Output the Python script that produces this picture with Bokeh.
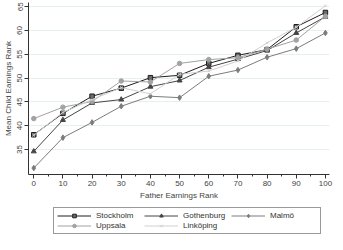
from bokeh.plotting import figure
from bokeh.layouts import column
from bokeh.models import Range1d, SingleIntervalTicker, FixedTicker, Legend, LegendItem
from bokeh.embed import file_html
from bokeh.resources import INLINE

father_rank = [0, 10, 20, 30, 40, 50, 60, 70, 80, 90, 100]
y_ticks = [35, 40, 45, 50, 55, 60, 65]
stockholm = [38.1, 42.6, 46.2, 47.9, 50.1, 50.6, 53.1, 54.8, 56.0, 60.8, 63.8]
gothenburg = [34.6, 41.2, 44.8, 45.5, 48.2, 49.5, 52.3, 54.0, 55.8, 59.5, 62.9]
malmo = [31.1, 37.5, 40.7, 44.1, 46.2, 45.9, 50.4, 51.7, 54.4, 56.2, 59.5]
uppsala = [41.5, 43.9, 45.1, 49.4, 49.2, 53.1, 53.9, 54.3, 56.1, 58.0, 63.0]
linkoping = [38.0, 42.8, 45.5, 48.0, 46.7, 50.8, 51.5, 53.6, 57.4, 60.7, 65.2]

series = [
    ("Stockholm", stockholm, "#1e1e1e", "square", "#6a6a6a", 4.5),
    ("Gothenburg", gothenburg, "#454545", "triangle", "#454545", 5),
    ("Malmö", malmo, "#7c7c7c", "diamond", "#7c7c7c", 5.5),
    ("Uppsala", uppsala, "#a2a2a2", "circle", "#a2a2a2", 4.5),
    ("Linköping", linkoping, "#d0d0d0", "x", "#d0d0d0", 3.5),
]

FONT = "Liberation Sans"

p = figure(frame_width=301, frame_height=172, output_backend="svg", toolbar_location=None,
           x_range=Range1d(-1.8, 101.4), y_range=Range1d(29.75, 65.9),
           min_border_left=26, min_border_right=8, min_border_top=2,
           min_border_bottom=0)
p.outline_line_color = None
p.background_fill_color = "white"
p.border_fill_color = "white"

p.xaxis.ticker = SingleIntervalTicker(interval=10, num_minor_ticks=2)
p.yaxis.ticker = FixedTicker(ticks=y_ticks)

for ax in (p.xaxis[0], p.yaxis[0]):
    ax.axis_line_color = "#333333"
    ax.major_tick_line_color = "#333333"
    ax.minor_tick_line_color = "#333333"
    ax.major_tick_out = 4
    ax.major_tick_in = 0
    ax.minor_tick_out = 2
    ax.minor_tick_in = 0
    ax.major_label_text_font = FONT
    ax.major_label_text_font_size = "8px"
    ax.major_label_text_color = "#444444"
    ax.axis_label_text_font = FONT
    ax.axis_label_text_font_size = "8px"
    ax.axis_label_text_font_style = "normal"
    ax.axis_label_text_color = "#444444"
    ax.major_label_standoff = 2
    ax.axis_label_standoff = 2

p.xaxis.axis_label = "Father Earnings Rank"
p.yaxis.axis_label = "Mean Child Earnings Rank"
p.yaxis.major_label_orientation = "vertical"
p.yaxis.minor_tick_line_color = None

p.xgrid.grid_line_color = None
p.ygrid.grid_line_color = "#e6eff1"
p.ygrid.grid_line_width = 1

# legend lives in its own slim figure under the chart; its renderers use the
# same series but the ranges keep them out of view, so only the legend shows
lg = figure(width=335, height=34, output_backend="svg", toolbar_location=None,
            x_range=Range1d(1000, 1001), y_range=Range1d(1000, 1001),
            x_axis_location=None, y_axis_location=None,
            min_border=0)
lg.outline_line_color = None
lg.xgrid.grid_line_color = None
lg.ygrid.grid_line_color = None
lg.background_fill_color = "white"
lg.border_fill_color = "white"

items = {}
for name, vals, col, marker, fill, size in series:
    p.line(father_rank, vals, line_color=col, line_width=1)
    p.scatter(father_rank, vals, marker=marker, size=size,
              line_color=col, fill_color=fill, line_width=1)
    r1 = lg.line(father_rank, vals, line_color=col, line_width=1)
    r2 = lg.scatter(father_rank, vals, marker=marker, size=size,
                    line_color=col, fill_color=fill, line_width=1)
    items[name] = LegendItem(label=name, renderers=[r1, r2])

order = ["Stockholm", "Uppsala", "Gothenburg", "Linköping", "Malmö"]
legend = Legend(items=[items[k] for k in order], nrows=2, location=(25, 2))
legend.label_text_font = FONT
legend.label_text_font_size = "8px"
legend.label_text_color = "#333333"
legend.glyph_width = 34
legend.glyph_height = 9
legend.label_height = 9
legend.label_width = 47
legend.label_standoff = 5
legend.spacing = 1
legend.padding = 3
legend.margin = 0
legend.border_line_color = "#333333"
legend.border_line_width = 1
legend.background_fill_alpha = 1
lg.add_layout(legend, "center")

open("out.html", "w").write(file_html(column(p, lg, spacing=0), INLINE))
